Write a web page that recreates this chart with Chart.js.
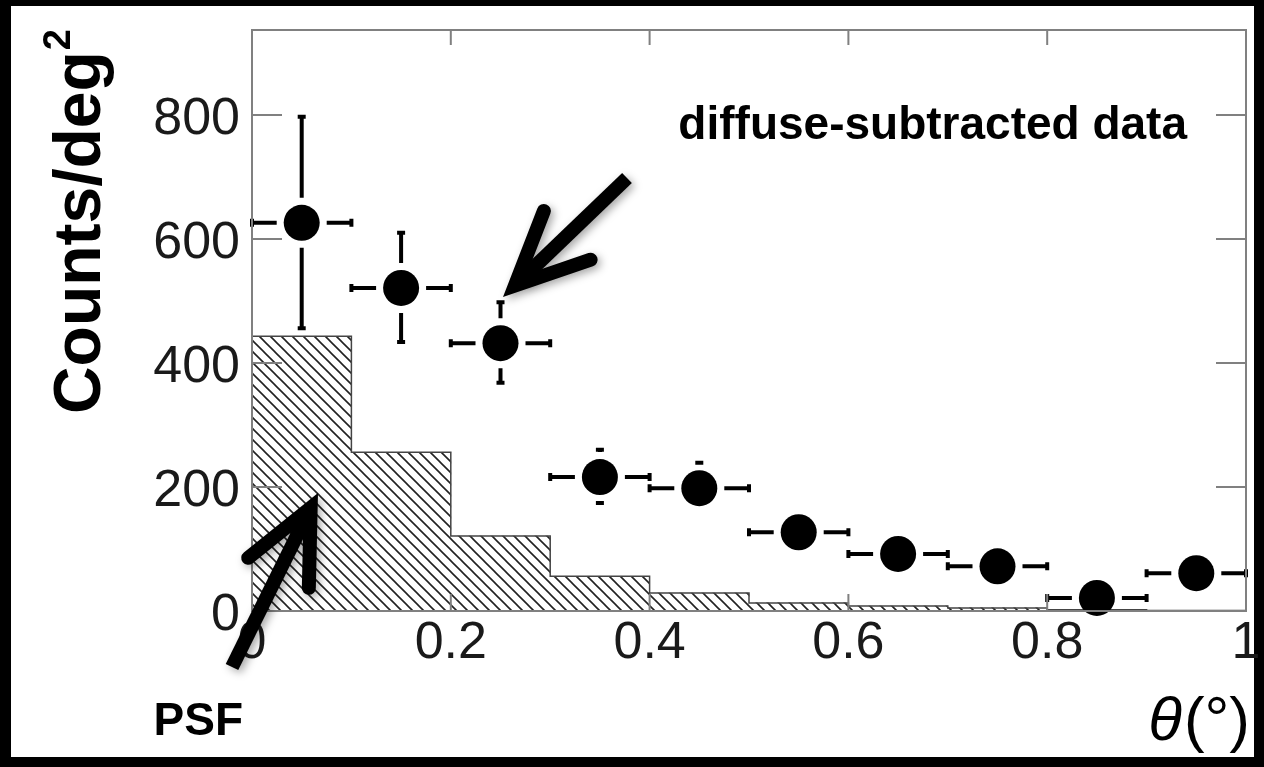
<!DOCTYPE html>
<html>
<head>
<meta charset="utf-8">
<script src="https://cdn.jsdelivr.net/npm/chart.js@4.4.1/dist/chart.umd.min.js"></script>
<style>
  html, body { margin: 0; padding: 0; background: #000; }
  #wrap { width: 1264px; height: 767px; }
</style>
</head>
<body>
<div id="wrap"><canvas id="psf-chart"></canvas></div>
<script>
// theta bins (deg) and counts per deg^2
var binCenters = [0.05, 0.15, 0.25, 0.35, 0.45, 0.55, 0.65, 0.75, 0.85, 0.95];
var binHalfWidth = 0.05;
var psfCounts = [443, 256, 121, 56, 29, 13, 8, 5, 2, 1];
var dataCounts = [626, 521, 432, 216, 198, 127, 92, 72, 21, 61];
var dataErrUp = [171, 89, 66, 44, 41, 30, 28, 25, 25, 25];
var dataErrDown = [170, 87, 64, 42, 40, 30, 28, 25, 25, 25];

var xTicks = [0, 0.2, 0.4, 0.6, 0.8, 1];
var xTickLabels = ["0", "0.2", "0.4", "0.6", "0.8", "1"];
var yTicks = [0, 200, 400, 600, 800];
var yTickLabels = ["0", "200", "400", "600", "800"];

var FONT = '"Liberation Sans", Arial, Helvetica, sans-serif';

function makeHatch() {
    var size = 11;
    var c = document.createElement("canvas");
    c.width = size;
    c.height = size;
    var g = c.getContext("2d");
    g.fillStyle = "#fff";
    g.fillRect(0, 0, size, size);
    g.strokeStyle = "#222";
    g.lineWidth = 1.6;
    g.beginPath();
    g.moveTo(-1, -1); g.lineTo(size + 1, size + 1);
    g.moveTo(-1, size - 1); g.lineTo(1, size + 1);
    g.moveTo(size - 1, -1); g.lineTo(size + 1, 1);
    g.stroke();
    return g.createPattern(c, "repeat");
}

// histogram bars and its step outline
var psfBars = binCenters.map(function (x, i) { return { x: x, y: psfCounts[i] }; });
var psfOutline = [{ x: 0, y: 0 }];
binCenters.forEach(function (x, i) { psfOutline.push({ x: x - binHalfWidth, y: psfCounts[i] }); });
psfOutline.push({ x: 1, y: psfCounts[psfCounts.length - 1] });
var dataPoints = binCenters.map(function (x, i) { return { x: x, y: dataCounts[i] }; });

function drawArrow(ctx, x0, y0, x1, y1) {
    var headLen = 80, headAng = 25 * Math.PI / 180, lw = 14;
    var ang = Math.atan2(y0 - y1, x0 - x1);
    var pull = (lw / 2) / Math.sin(headAng);
    var tx = x1 + Math.cos(ang) * pull, ty = y1 + Math.sin(ang) * pull;
    ctx.save();
    ctx.strokeStyle = "#000";
    ctx.lineWidth = lw;
    ctx.shadowColor = "rgba(0,0,0,0.35)";
    ctx.shadowBlur = 8;
    ctx.shadowOffsetX = 3;
    ctx.shadowOffsetY = 3;
    ctx.lineCap = "butt";
    ctx.beginPath();
    ctx.moveTo(x0, y0);
    ctx.lineTo(tx + Math.cos(ang) * 10, ty + Math.sin(ang) * 10);
    ctx.stroke();
    ctx.lineCap = "round";
    ctx.lineJoin = "miter";
    ctx.beginPath();
    ctx.moveTo(tx + Math.cos(ang + headAng) * headLen, ty + Math.sin(ang + headAng) * headLen);
    ctx.lineTo(tx, ty);
    ctx.lineTo(tx + Math.cos(ang - headAng) * headLen, ty + Math.sin(ang - headAng) * headLen);
    ctx.stroke();
    ctx.restore();
}

var rootFrame = {
    id: "rootFrame",
    beforeDraw: function (chart) {
        var ctx = chart.ctx;
        ctx.save();
        ctx.fillStyle = "#000";
        ctx.fillRect(0, 0, chart.width, chart.height);
        ctx.fillStyle = "#fff";
        ctx.fillRect(11, 6, 1243, 751);
        ctx.restore();
    },
    afterDatasetsDraw: function (chart) {
        // error bars with a gap around the marker, ROOT style
        var ctx = chart.ctx, xs = chart.scales.x, ys = chart.scales.y;
        var gap = 25, cap = 4;
        ctx.save();
        ctx.strokeStyle = "#000";
        ctx.lineWidth = 4;
        ctx.beginPath();
        binCenters.forEach(function (c, i) {
            var cx = xs.getPixelForValue(c), cy = ys.getPixelForValue(dataCounts[i]);
            var xl = xs.getPixelForValue(c - binHalfWidth), xr = xs.getPixelForValue(c + binHalfWidth);
            ctx.moveTo(xl, cy); ctx.lineTo(cx - gap, cy);
            ctx.moveTo(xl, cy - cap); ctx.lineTo(xl, cy + cap);
            ctx.moveTo(cx + gap, cy); ctx.lineTo(xr, cy);
            ctx.moveTo(xr, cy - cap); ctx.lineTo(xr, cy + cap);
            var yt = ys.getPixelForValue(dataCounts[i] + dataErrUp[i]);
            var yb = ys.getPixelForValue(dataCounts[i] - dataErrDown[i]);
            if (cy - yt > gap) {
                ctx.moveTo(cx, cy - gap); ctx.lineTo(cx, yt);
                ctx.moveTo(cx - cap, yt); ctx.lineTo(cx + cap, yt);
            }
            if (yb - cy > gap) {
                ctx.moveTo(cx, cy + gap); ctx.lineTo(cx, yb);
                ctx.moveTo(cx - cap, yb); ctx.lineTo(cx + cap, yb);
            }
        });
        ctx.stroke();
        ctx.restore();
    },
    afterDraw: function (chart) {
        var ctx = chart.ctx, a = chart.chartArea, xs = chart.scales.x, ys = chart.scales.y;
        ctx.save();
        // frame and ticks
        ctx.strokeStyle = "#808080";
        ctx.lineWidth = 2;
        ctx.strokeRect(a.left, a.top, a.right - a.left, a.bottom - a.top);
        ctx.beginPath();
        yTicks.forEach(function (v) {
            var py = ys.getPixelForValue(v);
            ctx.moveTo(a.left, py); ctx.lineTo(a.left + 30, py);
            ctx.moveTo(a.right, py); ctx.lineTo(a.right - 30, py);
        });
        xTicks.forEach(function (v) {
            var px = xs.getPixelForValue(v);
            ctx.moveTo(px, a.bottom); ctx.lineTo(px, a.bottom - 17);
            ctx.moveTo(px, a.top); ctx.lineTo(px, a.top + 15);
        });
        ctx.stroke();

        // tick labels
        ctx.fillStyle = "#1a1a1a";
        ctx.font = "52px " + FONT;
        ctx.textBaseline = "alphabetic";
        ctx.textAlign = "right";
        yTicks.forEach(function (v, i) {
            ctx.fillText(yTickLabels[i], a.left - 12, ys.getPixelForValue(v) + 19);
        });
        ctx.textAlign = "center";
        xTicks.forEach(function (v, i) {
            ctx.fillText(xTickLabels[i], xs.getPixelForValue(v), a.bottom + 47);
        });

        // axis titles
        ctx.fillStyle = "#000";
        ctx.save();
        ctx.font = "bold 66px " + FONT;
        var main = "Counts/deg";
        var w1 = ctx.measureText(main).width;
        ctx.font = "bold 38px " + FONT;
        var w2 = ctx.measureText("2").width;
        ctx.translate(100, a.top + w1 + w2);
        ctx.rotate(-Math.PI / 2);
        ctx.textAlign = "left";
        ctx.font = "bold 66px " + FONT;
        ctx.fillText(main, 0, 0);
        ctx.font = "bold 38px " + FONT;
        ctx.fillText("2", w1 + 1, -30);
        ctx.restore();

        ctx.font = "62px " + FONT;
        ctx.textAlign = "right";
        var paren = "(\u00b0)";
        var pw = ctx.measureText(paren).width;
        ctx.fillText(paren, 1250, 740);
        ctx.font = "italic 62px " + FONT;
        ctx.fillText("\u03b8", 1250 - pw - 2, 740);

        // annotations
        ctx.textAlign = "right";
        ctx.font = "bold 46px " + FONT;
        ctx.fillText("diffuse-subtracted data", 1187, 139);
        ctx.fillText("PSF", 243, 735);
        ctx.restore();

        drawArrow(ctx, 627, 178, 503, 297);
        drawArrow(ctx, 232, 667, 318, 493);
    }
};

new Chart(document.getElementById("psf-chart"), {
    type: "bar",
    data: {
        datasets: [
            {
                type: "scatter",
                label: "diffuse-subtracted data",
                data: dataPoints,
                pointRadius: 18,
                pointHoverRadius: 18,
                pointBackgroundColor: "#000",
                pointBorderWidth: 0,
                showLine: false,
                clip: false,
                order: 1
            },
            {
                type: "line",
                label: "PSF outline",
                data: psfOutline,
                stepped: "before",
                borderColor: "#444",
                borderWidth: 1.5,
                pointRadius: 0,
                fill: false,
                order: 2
            },
            {
                type: "bar",
                label: "PSF",
                data: psfBars,
                backgroundColor: makeHatch(),
                borderWidth: 0,
                barPercentage: 1,
                categoryPercentage: 1,
                order: 3
            }
        ]
    },
    options: {
        responsive: true,
        maintainAspectRatio: false,
        animation: false,
        devicePixelRatio: 1,
        layout: { padding: { left: 252, right: 16, top: 30, bottom: 156 } },
        plugins: {
            legend: { display: false },
            tooltip: { enabled: false }
        },
        scales: {
            x: { type: "linear", min: 0, max: 1, offset: false, display: false },
            y: { type: "linear", min: 0, max: 937, display: false }
        }
    },
    plugins: [rootFrame]
});
</script>
</body>
</html>
